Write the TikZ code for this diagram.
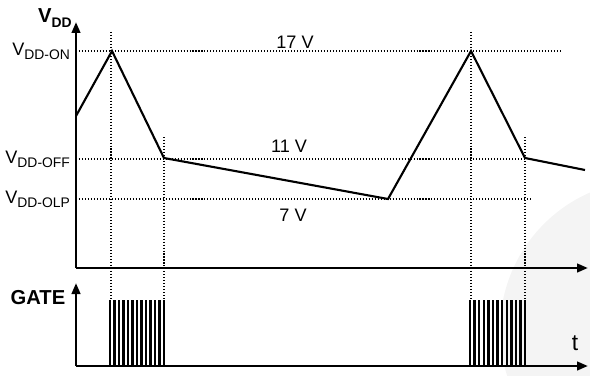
\documentclass[tikz,border=0pt]{standalone}
\usepackage{fontspec}
\setmainfont{Liberation Sans}
\usepackage{tikz}
\usetikzlibrary{arrows.meta,positioning,calc}
\definecolor{wmarkcolor}{RGB}{244,244,244}
\newcommand{\lowsub}[1]{\raisebox{-0.45ex}{\fontsize{7.9}{9}\selectfont #1}}

\begin{document}
\begin{tikzpicture}[
    x=0.02cm, y=-0.02cm,
    axis/.style={line width=1.5pt, -{Triangle[length=0.22cm,width=0.17cm]}},
    wave/.style={line width=1.2pt, line join=miter},
    guide/.style={line width=0.6pt, dash pattern=on 0.6pt off 1.1pt},
    pulse/.style={line width=1.35pt},
    lbl/.style={inner sep=1pt, font=\fontsize{10.3}{12}\selectfont},
    axlbl/.style={inner sep=1pt, font=\fontsize{11.5}{13}\selectfont\bfseries}
]
\useasboundingbox (0,0) rectangle (590,375);

% faint watermark
\begin{scope}
    \clip (0,0) rectangle (590,375);
    \fill[wmarkcolor] (650,330) circle[radius=150];
\end{scope}

% ============ VDD plot ============
\coordinate (o1) at (76,268);
\coordinate (ytop) at (76,22);
\coordinate (xend) at (588,268);

% levels
\node[lbl, anchor=east] (von) at (72,51) {V\lowsub{DD-ON}};
\node[lbl, anchor=east] (voff) at (72,159) {V\lowsub{DD-OFF}};
\node[lbl, anchor=east] (volp) at (72,199) {V\lowsub{DD-OLP}};
\coordinate (von e) at (560,51);
\coordinate (voff e) at (525,159);
\coordinate (volp e) at (532,199);
\draw[guide] (76,51) -- (von e);
\draw[guide] (76,159) -- (voff e);
\draw[guide] (76,199) -- (volp e);

\node[lbl] (l17) at (295,42) {17 V};
\node[lbl] (l11) at (289,146) {11 V};
\node[lbl] (l7) at (293,215) {7 V};

% waveform
\coordinate (p0) at (76,116);
\coordinate (p1) at (112,51);
\coordinate (p2) at (164,158);
\coordinate (p3) at (388,199);
\coordinate (p4) at (471,51);
\coordinate (p5) at (525,158);
\coordinate (p6) at (585,170);
\draw[wave] (p0) -- (p1) -- (p2) -- (p3) -- (p4) -- (p5) -- (p6);

% guides down to gate
\coordinate (g1) at (111,300);
\coordinate (g2) at (164,300);
\coordinate (g3) at (471,300);
\coordinate (g4) at (525,300);
\draw[guide] (111,32) -- (g1);
\draw[guide] (164,137) -- (g2);
\draw[guide] (471,32) -- (g3);
\draw[guide] (525,137) -- (g4);

\draw[axis] (o1) -- (ytop);
\draw[axis] (o1) -- (xend);
\node[axlbl] (vdd) at (55,18) {V\lowsub{\bfseries DD}};

% ============ GATE plot ============
\coordinate (o2) at (76,366);
\coordinate (gtop) at (76,283);
\coordinate (gend) at (588,366);

% pulse bursts
\foreach \i in {0,...,12} {
    \draw[pulse] ($(110,366)+(\i*4.5,0)$) -- ++(0,-66);
    \draw[pulse] ($(470,366)+(\i*4.6,0)$) -- ++(0,-66);
}

\draw[axis] (o2) -- (gtop);
\draw[axis] (o2) -- (gend);
\node[axlbl] (gate) at (38,298) {GATE};
\node[lbl, font=\fontsize{13}{14}\selectfont] (t) at (575,343) {t};

\end{tikzpicture}
\end{document}
